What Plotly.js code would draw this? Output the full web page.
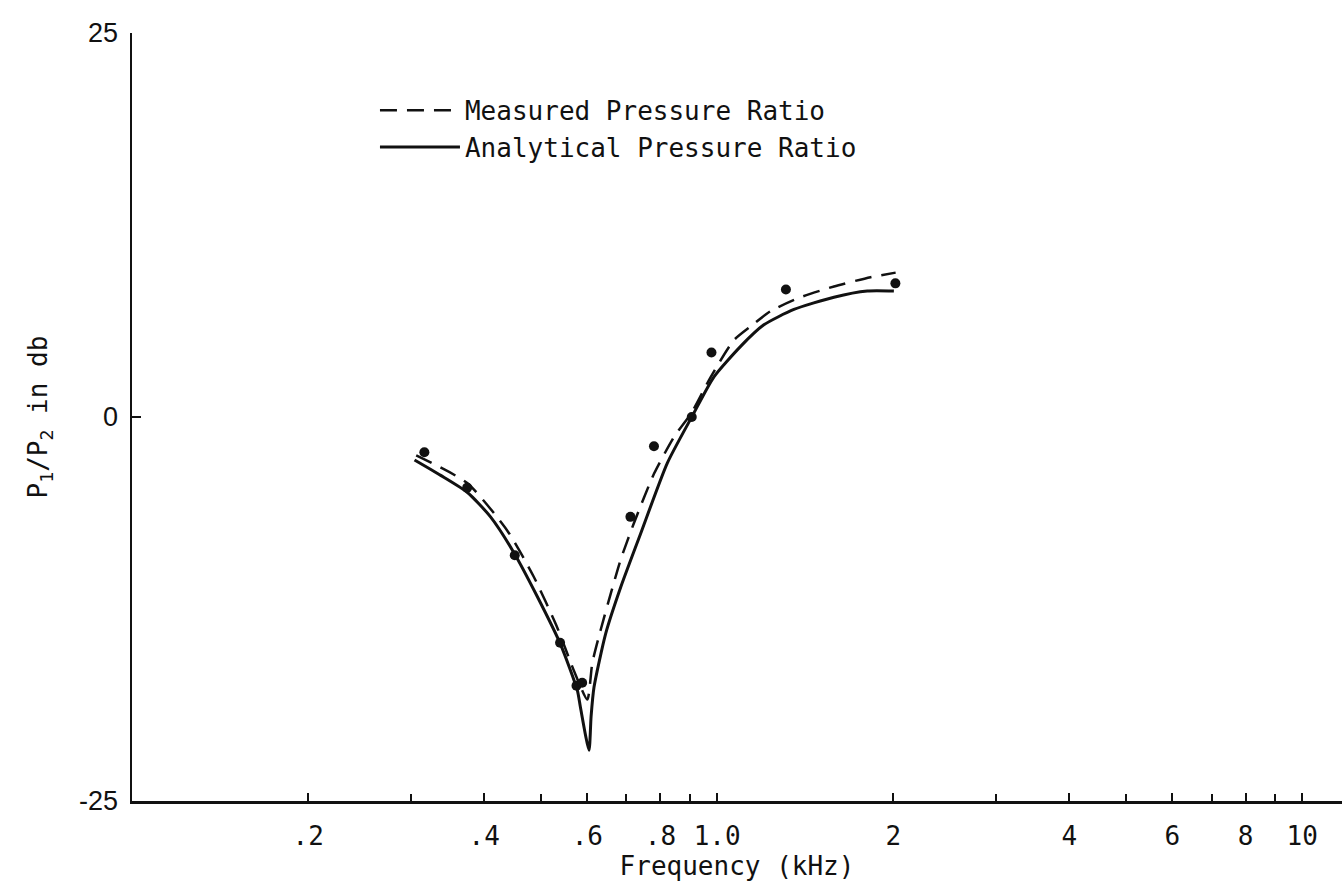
<!DOCTYPE html>
<html>
<head>
<meta charset="utf-8">
<script src="https://cdn.plot.ly/plotly-3.0.1.min.js"></script>
<style>
  html, body { margin: 0; padding: 0; background: #fff; }
  #chart { width: 1342px; height: 887px; }
</style>
</head>
<body>
<div id="chart"></div>
<script>
// Pressure ratio P1/P2 (dB) against frequency (kHz)

// Measured pressure ratio (faired dashed curve)
const measuredFreq = [0.306, 0.374, 0.438, 0.486, 0.533, 0.569, 0.600, 0.612, 0.632, 0.658, 0.684, 0.721,
                      0.780, 0.844, 0.905, 0.975, 1.068, 1.141, 1.235, 1.389, 1.584, 1.829, 2.019];
const measuredDb   = [-2.5, -4.3, -7.4, -10.4, -13.7, -16.5, -18.4, -16.0, -13.9, -11.5, -9.3, -6.9,
                      -3.7, -1.3, 0.3, 2.6, 5.0, 5.9, 6.9, 7.8, 8.5, 9.1, 9.4];

// Analytical pressure ratio (solid curve)
const analyticFreq = [0.304, 0.337, 0.374, 0.410, 0.449, 0.493, 0.540, 0.577, 0.584, 0.604, 0.609, 0.616,
                      0.645, 0.684, 0.740, 0.822, 0.908, 0.987, 1.097, 1.202, 1.353, 1.584, 1.806, 2.005];
const analyticDb   = [-2.8, -3.8, -4.9, -6.5, -8.8, -11.7, -14.8, -17.8, -18.9, -21.7, -19.5, -17.6,
                      -14.1, -11.1, -7.6, -3.0, 0.1, 2.6, 4.6, 6.0, 7.0, 7.8, 8.2, 8.2];

// Individual measurement points
const pointFreq = [0.316, 0.374, 0.451, 0.539, 0.575, 0.588, 0.711, 0.780, 0.905, 0.978, 1.311, 2.017];
const pointDb   = [-2.3, -4.6, -9.0, -14.7, -17.5, -17.3, -6.5, -1.9, 0.0, 4.2, 8.3, 8.7];

// Axis ticks: labelled values plus unlabelled decade subdivisions
const xTickVals  = [0.2, 0.4, 0.6, 0.8, 1, 2, 4, 6, 8, 10];
const xTickText  = ['.2', '.4', '.6', '.8', '1.0', '2', '4', '6', '8', '10'];
const xMinorVals = [0.3, 0.5, 0.7, 0.9, 3, 5, 7, 9];
const yTickVals  = [-25, 0, 25];
const yTickText  = ['-25', '0', '25'];

const ink = '#111';
const mono = '"DejaVu Sans Mono", "Liberation Mono", monospace';

const traces = [
  {
    x: measuredFreq, y: measuredDb, type: 'scatter', mode: 'lines',
    name: 'Measured Pressure Ratio',
    line: { color: ink, width: 2.5, dash: '17px,10px', shape: 'spline', smoothing: 0.6 }
  },
  {
    x: analyticFreq, y: analyticDb, type: 'scatter', mode: 'lines',
    name: 'Analytical Pressure Ratio',
    line: { color: ink, width: 3, shape: 'spline', smoothing: 0.6 }
  },
  {
    x: pointFreq, y: pointDb, type: 'scatter', mode: 'markers',
    name: 'Measured points', showlegend: false,
    marker: { color: ink, size: 10 }
  }
];

const layout = {
  width: 1342, height: 887,
  margin: { l: 132, r: 0, t: 33, b: 86 },
  paper_bgcolor: '#fff', plot_bgcolor: '#fff',
  showlegend: true,
  legend: {
    x: 0.2008, y: 0.93, xanchor: 'left', yanchor: 'top',
    bgcolor: 'rgba(0,0,0,0)', borderwidth: 0,
    itemwidth: 80,
    font: { family: mono, size: 26, color: ink }
  },
  xaxis: {
    type: 'log', range: [-1, 1.068],
    tickmode: 'array', tickvals: xTickVals, ticktext: xTickText,
    ticks: 'inside', ticklen: 8, tickwidth: 2, tickcolor: ink,
    minor: { tickmode: 'array', tickvals: xMinorVals, ticks: 'inside', ticklen: 7, tickwidth: 2, tickcolor: ink, showgrid: false },
    ticklabelstandoff: 10,
    showline: true, linecolor: ink, linewidth: 2.5,
    showgrid: false, zeroline: false,
    tickfont: { family: mono, size: 26, color: ink },
    title: { text: 'Frequency (kHz)', standoff: 0, font: { family: mono, size: 26, color: ink } }
  },
  yaxis: {
    range: [-25, 25],
    tickmode: 'array', tickvals: yTickVals, ticktext: yTickText,
    ticks: 'inside', ticklen: 9, tickwidth: 2, tickcolor: ink,
    ticklabelstandoff: 6,
    showline: true, linecolor: ink, linewidth: 2.5,
    showgrid: false, zeroline: false,
    tickfont: { family: '"Liberation Sans", Arial, sans-serif', size: 27, color: ink },
    title: { text: 'P<sub>1</sub>/P<sub>2</sub> in db', standoff: 24, font: { family: mono, size: 26, color: ink } }
  }
};

Plotly.newPlot('chart', traces, layout, { staticPlot: true, displayModeBar: false });
</script>
</body>
</html>
